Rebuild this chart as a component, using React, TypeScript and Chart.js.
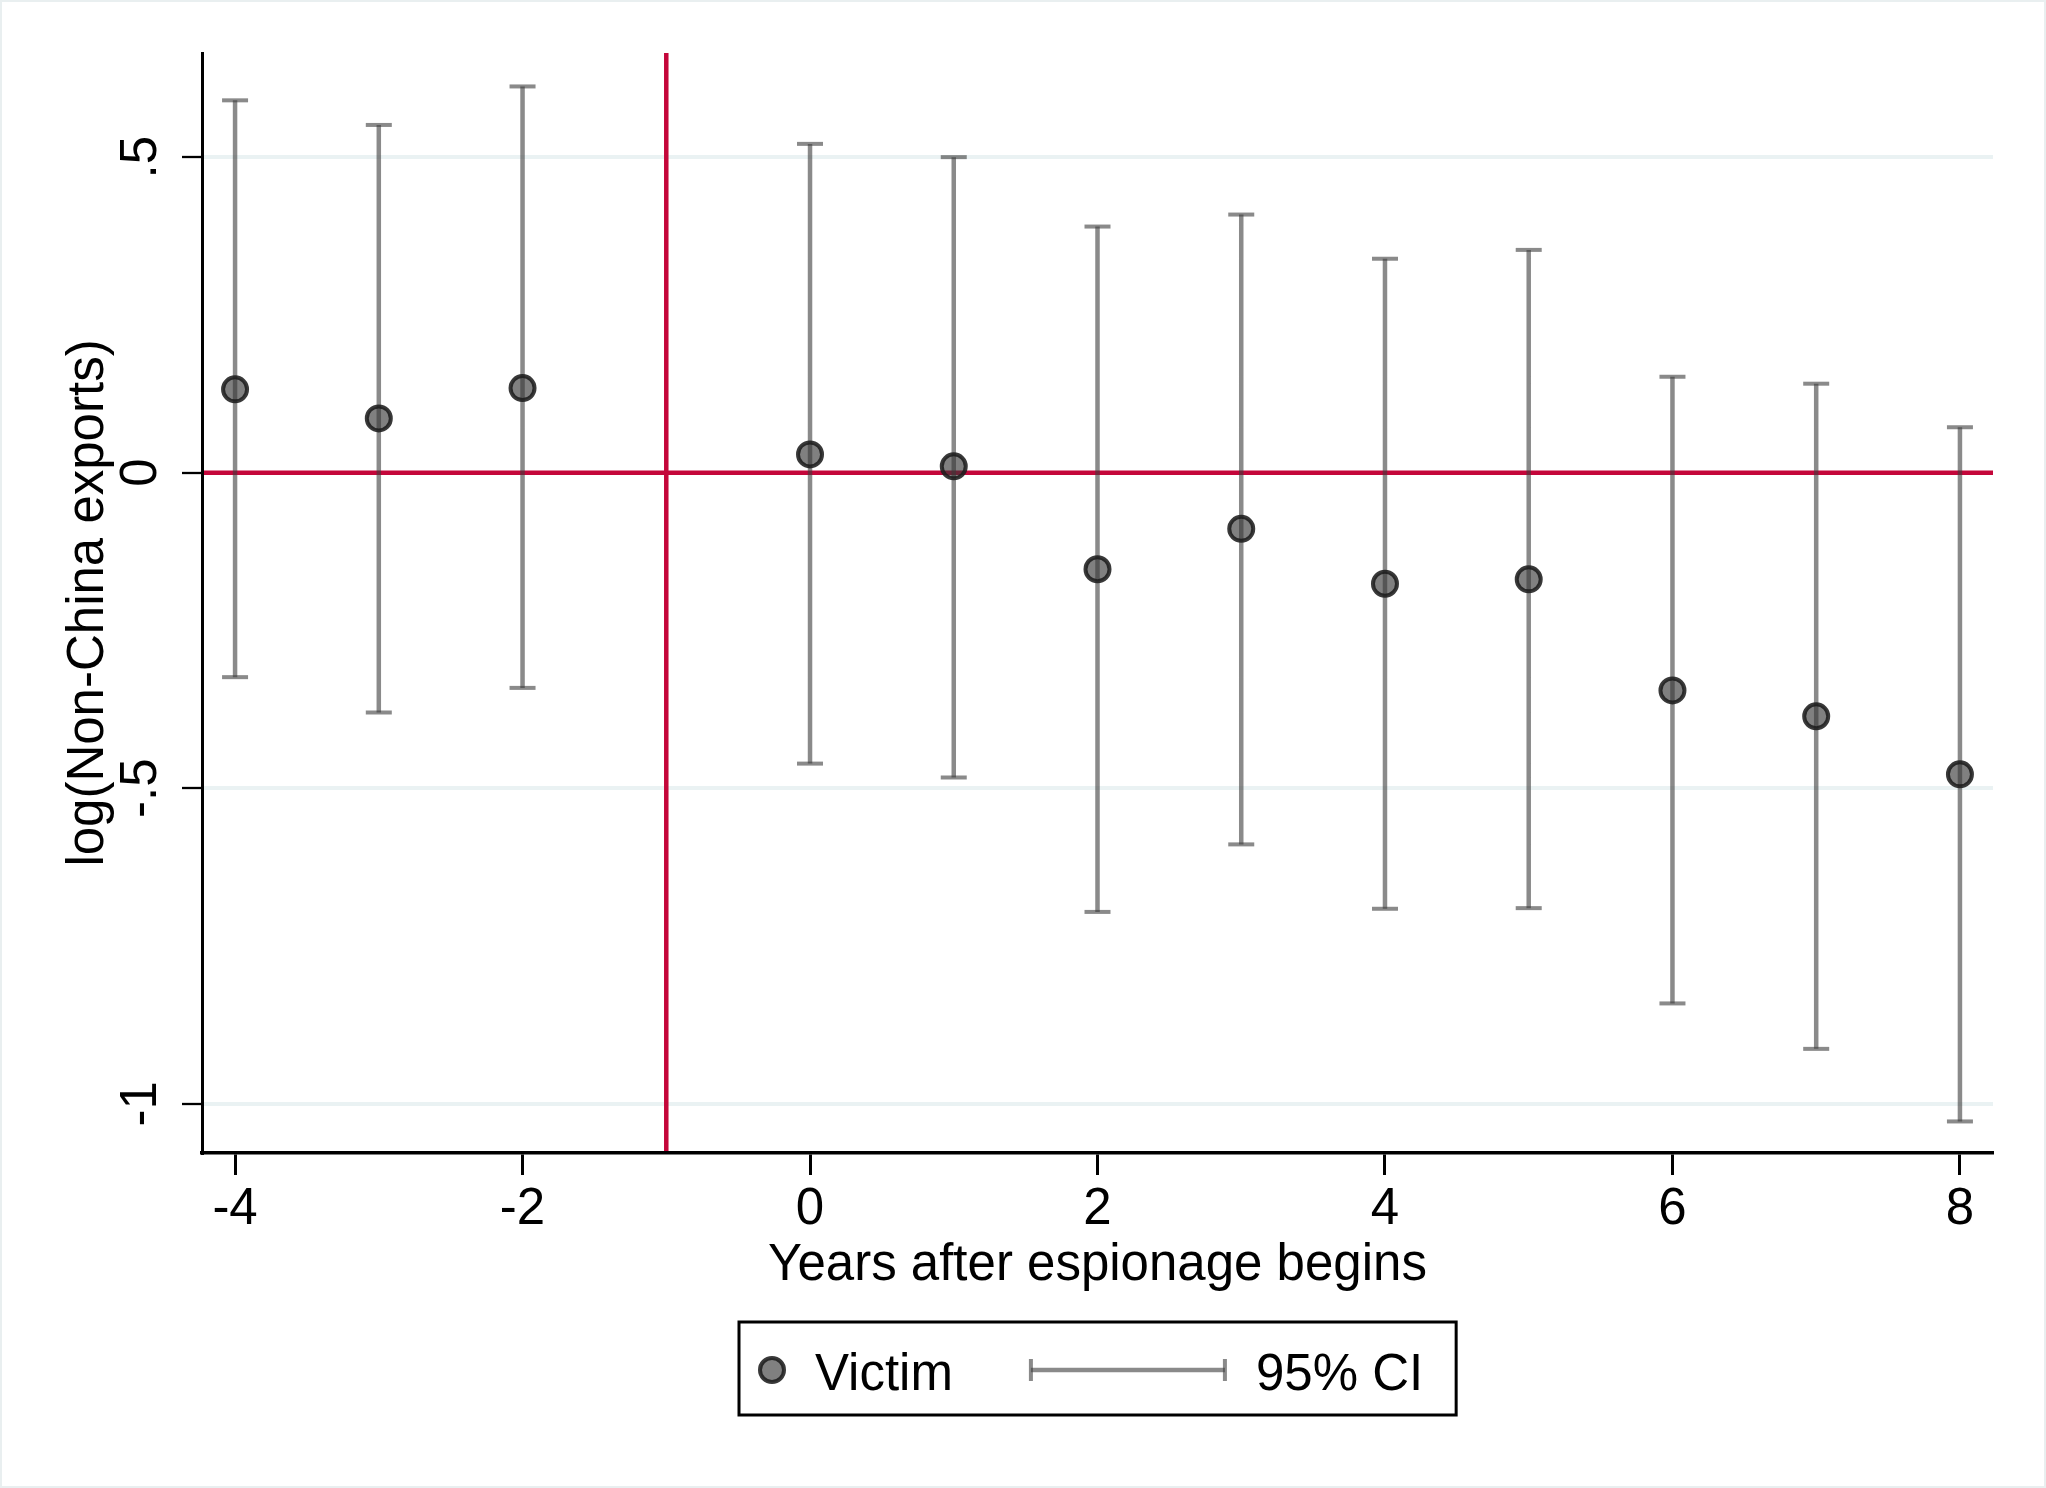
import { useEffect, useRef } from "react";
import { Chart, registerables } from "chart.js";

Chart.register(...registerables);

// event-study estimates
const years = [-4, -3, -2, 0, 1, 2, 3, 4, 5, 6, 7, 8];
const estimates = [0.132, 0.086, 0.134, 0.029, 0.010, -0.153, -0.089, -0.176, -0.169, -0.345, -0.386, -0.478];
const ciUpper = [0.590, 0.551, 0.612, 0.521, 0.500, 0.390, 0.409, 0.339, 0.353, 0.152, 0.141, 0.072];
const ciLower = [-0.324, -0.380, -0.341, -0.461, -0.483, -0.696, -0.589, -0.691, -0.690, -0.841, -0.913, -1.028];

const xTicks = [-4, -2, 0, 2, 4, 6, 8];
const yTicks = [-1, -0.5, 0, 0.5];
const yTickLabels = ["-1", "-.5", "0", ".5"];

const refX = -1;
const refY = 0;

const FONT = "'Liberation Sans', Arial, Helvetica, sans-serif";
const FONT_SIZE = 51;
const CRANBERRY = "#C4063A";
const CI_GRAY = "rgba(60,60,60,0.6)";
const MARKER_FILL = "rgba(54,54,54,0.63)";
const MARKER_EDGE = "rgba(30,30,30,0.88)";

const refLines = {
    id: "refLines",
    beforeDatasetsDraw(chart: any) {
        const {ctx, chartArea: a, scales: {x, y}} = chart;
        const px = x.getPixelForValue(refX);
        const py = y.getPixelForValue(refY);
        ctx.save();
        ctx.strokeStyle = CRANBERRY;
        ctx.lineWidth = 4.5;
        ctx.beginPath();
        ctx.moveTo(a.left + 2, py);
        ctx.lineTo(a.right, py);
        ctx.moveTo(px, a.top);
        ctx.lineTo(px, a.bottom - 2);
        ctx.stroke();
        ctx.restore();
    }
};

// Stata-like boxed legend under the x axis title
const boxLegend = {
    id: "boxLegend",
    afterDraw(chart: any) {
        const {ctx, chartArea} = chart;
        const xScale = chart.scales.x;
        const [victim, ci] = chart.data.datasets;
        ctx.save();
        ctx.font = `${FONT_SIZE}px ${FONT}`;
        const victimW = ctx.measureText(victim.label).width;
        const ciW = ctx.measureText(ci.label).width;
        const pad = 33, markerGap = 43, itemGap = 78, symW = 194, symGap = 31;
        const boxW = pad + markerGap + victimW + itemGap + symW + symGap + ciW + pad;
        const left = Math.round((chartArea.left + chartArea.right) / 2 - boxW / 2);
        const top = Math.round(xScale.bottom + 25);
        const h = 93;
        const cy = top + 48;

        ctx.lineWidth = 3;
        ctx.strokeStyle = "#000";
        ctx.strokeRect(left, top, boxW, h);

        // marker
        const mx = left + pad;
        ctx.beginPath();
        ctx.arc(mx, cy, 12, 0, Math.PI * 2);
        ctx.fillStyle = MARKER_FILL;
        ctx.fill();
        ctx.lineWidth = 4;
        ctx.strokeStyle = MARKER_EDGE;
        ctx.stroke();

        ctx.fillStyle = "#000";
        ctx.textBaseline = "alphabetic";
        const tx = mx + markerGap;
        ctx.fillText(victim.label, tx, top + 68);

        // CI symbol
        const sx = tx + victimW + itemGap;
        ctx.strokeStyle = CI_GRAY;
        ctx.lineWidth = 4.5;
        ctx.beginPath();
        ctx.moveTo(sx, cy);
        ctx.lineTo(sx + symW, cy);
        ctx.stroke();
        ctx.lineWidth = 4;
        ctx.beginPath();
        ctx.moveTo(sx, cy - 11);
        ctx.lineTo(sx, cy + 11);
        ctx.moveTo(sx + symW, cy - 11);
        ctx.lineTo(sx + symW, cy + 11);
        ctx.stroke();

        ctx.fillStyle = "#000";
        ctx.fillText(ci.label, sx + symW + symGap, top + 68);
        ctx.restore();
    }
};

const EventStudy = () => {
    const canvasRef = useRef<HTMLCanvasElement>(null);

    useEffect(() => {
        const el = canvasRef.current;
        if (!el) return;

        const font = {family: FONT, size: FONT_SIZE};

        const pointData = years.map((x, i) => ({x, y: estimates[i]}));
        const ciData = years.flatMap((x, i) => [
            {x, y: ciLower[i]},
            {x, y: ciUpper[i]},
            {x, y: null as any}
        ]);

        const chart = new Chart(el, {
            type: "scatter",
            data: {
                datasets: [
                    {
                        label: "Victim",
                        data: pointData,
                        pointStyle: "circle",
                        pointRadius: 12,
                        pointBackgroundColor: MARKER_FILL,
                        pointBorderColor: MARKER_EDGE,
                        pointBorderWidth: 4,
                        showLine: false
                    },
                    {
                        label: "95% CI",
                        data: ciData,
                        showLine: true,
                        spanGaps: false,
                        borderColor: CI_GRAY,
                        borderWidth: 4.5,
                        pointStyle: "line",
                        pointRadius: 13,
                        pointBorderColor: CI_GRAY,
                        pointBorderWidth: 4
                    }
                ]
            },
            options: {
                animation: false,
                responsive: false,
                events: [],
                layout: {padding: {left: 0, right: 51, top: 51, bottom: 189}},
                plugins: {
                    legend: {display: false},
                    tooltip: {enabled: false}
                },
                scales: {
                    x: {
                        type: "linear",
                        min: -4.23,
                        max: 8.23,
                        afterBuildTicks: (s: any) => {
                            s.ticks = xTicks.map(value => ({value}));
                        },
                        afterFit: (s: any) => {
                            s.height = 144;
                        },
                        grid: {
                            drawOnChartArea: false,
                            drawTicks: true,
                            tickColor: "#000",
                            tickWidth: 3,
                            tickLength: 22
                        },
                        border: {display: true, color: "#000", width: 3.5},
                        ticks: {
                            font,
                            color: "#000",
                            padding: 4,
                            maxRotation: 0,
                            autoSkip: false,
                            callback: (v: any) => String(v)
                        },
                        title: {
                            display: true,
                            text: "Years after espionage begins",
                            font,
                            color: "#000",
                            padding: {top: 0, bottom: 0}
                        }
                    },
                    y: {
                        type: "linear",
                        min: -1.078,
                        max: 0.665,
                        afterBuildTicks: (s: any) => {
                            s.ticks = yTicks.map(value => ({value}));
                        },
                        afterFit: (s: any) => {
                            s.width = 200;
                        },
                        grid: {
                            color: "#EAF2F3",
                            lineWidth: 4,
                            drawTicks: true,
                            tickColor: "#000",
                            tickWidth: 2.3,
                            tickLength: 20
                        },
                        border: {display: true, color: "#000", width: 3},
                        ticks: {
                            font,
                            color: "#000",
                            minRotation: 90,
                            maxRotation: 90,
                            crossAlign: "center",
                            padding: 10,
                            autoSkip: false,
                            callback: (v: any) => {
                                const i = yTicks.indexOf(Number(v));
                                return i >= 0 ? yTickLabels[i] : "";
                            }
                        },
                        title: {
                            display: true,
                            text: "log(Non-China exports)",
                            font,
                            color: "#000",
                            padding: {top: 56, bottom: 0}
                        }
                    }
                }
            },
            plugins: [refLines, boxLegend]
        });

        return () => {
            chart.destroy();
        };
    }, []);

    return (
        <div
            style={{
                position: "absolute",
                left: 0,
                top: 0,
                width: 2046,
                height: 1488,
                boxSizing: "border-box",
                border: "2px solid #E9EFF0",
                background: "#fff"
            }}
        >
            <canvas ref={canvasRef} width={2042} height={1484} style={{display: "block"}}/>
        </div>
    );
};

export default function App() {
    return <EventStudy/>;
}
